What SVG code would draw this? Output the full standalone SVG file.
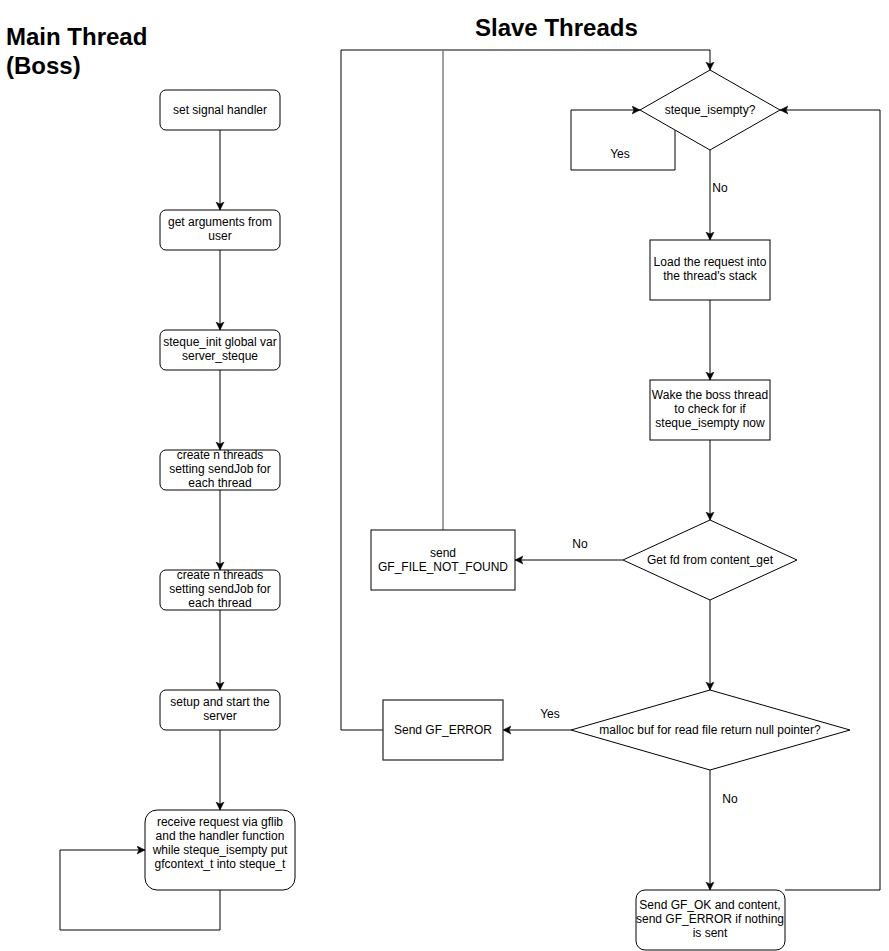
<svg xmlns="http://www.w3.org/2000/svg" width="889" height="951" viewBox="0 0 889 951">
<style>
text{font-family:"Liberation Sans",Arial,sans-serif;font-size:12px;fill:#000;text-anchor:middle}
.title{font-size:24px;font-weight:bold;text-anchor:start}
.node{fill:#fff;stroke:#000;stroke-width:1}
.edge{fill:none;stroke:#000;stroke-width:1}
.arrow{marker-end:url(#ah)}
.gray{stroke:#7f7f7f;stroke-width:1.5}
</style>
<defs>
<marker id="ah" markerUnits="userSpaceOnUse" markerWidth="10" markerHeight="10" refX="8" refY="4.5" orient="auto">
<path d="M0,0.5 L8,4.5 L0,8.5 L2,4.5 z" fill="#000" stroke="#000" stroke-width="0.5"/>
</marker>
</defs>
<rect width="889" height="951" fill="#fff"/>
<g id="titles">
<text class="title" x="6" y="45">Main Thread</text>
<text class="title" x="6" y="74">(Boss)</text>
<text class="title" x="475" y="36">Slave Threads</text>
</g>
<g id="connectors">
<line class="edge arrow" x1="220" y1="130" x2="220" y2="210"/>
<line class="edge arrow" x1="220" y1="250" x2="220" y2="330"/>
<line class="edge arrow" x1="220" y1="370" x2="220" y2="450"/>
<line class="edge arrow" x1="220" y1="490" x2="220" y2="570"/>
<line class="edge arrow" x1="220" y1="610" x2="220" y2="690"/>
<line class="edge arrow" x1="220" y1="730" x2="220" y2="810"/>
<polyline class="edge arrow" points="220,890 220,930 60,930 60,850 145,850"/>
<polyline class="edge arrow" points="383,730 341,730 341,50 710,50 710,70"/>
<line class="edge gray" x1="443" y1="530" x2="443" y2="50"/>
<polyline class="edge arrow" points="675,130 675,170 571,170 571,110 640,110"/>
<line class="edge arrow" x1="710" y1="150" x2="710" y2="240"/>
<line class="edge arrow" x1="710" y1="300" x2="710" y2="380"/>
<line class="edge arrow" x1="710" y1="440" x2="710" y2="520"/>
<line class="edge arrow" x1="623" y1="560" x2="515" y2="560"/>
<line class="edge arrow" x1="710" y1="600" x2="710" y2="690"/>
<line class="edge arrow" x1="571" y1="730" x2="503" y2="730"/>
<line class="edge arrow" x1="710" y1="770" x2="710" y2="890"/>
<polyline class="edge arrow" points="785,890 880,890 880,110 780,110"/>
<text x="620" y="158">Yes</text>
<text x="720" y="192">No</text>
<text x="580" y="548">No</text>
<text x="550" y="718">Yes</text>
<text x="730" y="803">No</text>
</g>
<g id="n-signal">
<rect class="node" x="160" y="90" width="120" height="40" rx="6"/>
<text x="220" y="114">set signal handler</text>
</g>
<g id="n-args">
<rect class="node" x="160" y="210" width="120" height="40" rx="6"/>
<text x="220" y="226">get arguments from</text>
<text x="220" y="240">user</text>
</g>
<g id="n-init">
<rect class="node" x="160" y="330" width="120" height="40" rx="6"/>
<text x="220" y="346">steque_init global var</text>
<text x="220" y="360">server_steque</text>
</g>
<g id="n-create1">
<rect class="node" x="160" y="450" width="120" height="40" rx="6"/>
<text x="220" y="459">create n threads</text>
<text x="220" y="473">setting sendJob for</text>
<text x="220" y="487">each thread</text>
</g>
<g id="n-create2">
<rect class="node" x="160" y="570" width="120" height="40" rx="6"/>
<text x="220" y="579">create n threads</text>
<text x="220" y="593">setting sendJob for</text>
<text x="220" y="607">each thread</text>
</g>
<g id="n-setup">
<rect class="node" x="160" y="690" width="120" height="40" rx="6"/>
<text x="220" y="706">setup and start the</text>
<text x="220" y="720">server</text>
</g>
<g id="n-receive">
<rect class="node" x="145" y="810" width="150" height="80" rx="12"/>
<text x="220" y="826">receive request via gflib</text>
<text x="220" y="840">and the handler function</text>
<text x="220" y="854">while steque_isempty put</text>
<text x="220" y="868">gfcontext_t into steque_t</text>
</g>
<g id="n-isempty">
<polygon class="node" points="710,70 780,110 710,150 640,110"/>
<text x="710" y="114">steque_isempty?</text>
</g>
<g id="n-load">
<rect class="node" x="650" y="240" width="120" height="60"/>
<text x="710" y="266">Load the request into</text>
<text x="710" y="280">the thread's stack</text>
</g>
<g id="n-wake">
<rect class="node" x="650" y="380" width="120" height="60"/>
<text x="710" y="399">Wake the boss thread</text>
<text x="710" y="413">to check for if</text>
<text x="710" y="427">steque_isempty now</text>
</g>
<g id="n-getfd">
<polygon class="node" points="710,520 797,560 710,600 623,560"/>
<text x="710" y="564">Get fd from content_get</text>
</g>
<g id="n-notfound">
<rect class="node" x="371" y="530" width="144" height="60"/>
<text x="443" y="557">send</text>
<text x="443" y="571">GF_FILE_NOT_FOUND</text>
</g>
<g id="n-malloc">
<polygon class="node" points="710,690 850,730 710,770 571,730"/>
<text x="710" y="734">malloc buf for read file return null pointer?</text>
</g>
<g id="n-error">
<rect class="node" x="383" y="700" width="120" height="60" style="stroke:#333;stroke-width:1.3"/>
<text x="443" y="734">Send GF_ERROR</text>
</g>
<g id="n-ok">
<rect class="node" x="636" y="890" width="149" height="60" rx="9"/>
<text x="710" y="909">Send GF_OK and content,</text>
<text x="710" y="923">send GF_ERROR if nothing</text>
<text x="710" y="937">is sent</text>
</g>
</svg>
